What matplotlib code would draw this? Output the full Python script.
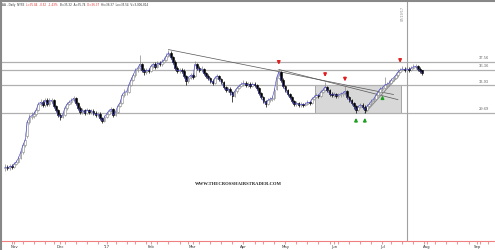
import matplotlib
matplotlib.use("Agg")
import matplotlib.pyplot as plt
import matplotlib.transforms as mtransforms
import numpy as np
import pandas as pd

# ---------------- data ----------------
start_date = "2016-10-26"
holidays = ["2016-11-24", "2016-12-26", "2017-01-02", "2017-01-16", "2017-02-20",
            "2017-04-14", "2017-05-29", "2017-07-04", "2017-09-04"]

closes = [
    21.2, 21.0, 21.3, 21.2, 21.7, 22.0, 22.6, 23.5, 24.6, 25.4,
    28.2, 29.0, 29.2, 29.5, 30.1, 31.0, 31.3, 30.9, 31.6, 31.0,
    31.5, 31.6, 30.7, 30.1, 29.3, 29.0, 29.3, 30.4, 31.0, 31.3,
    31.6, 31.9, 31.2, 30.4, 29.8, 30.1, 29.6, 30.1, 29.8, 30.0,
    29.6, 29.3, 29.5, 28.8, 28.4, 29.0, 29.5, 30.0, 30.2, 29.3,
    29.8, 30.7, 31.2, 32.4, 32.9, 32.9, 34.0, 34.8, 35.5, 36.3,
    36.6, 37.2, 36.3, 36.0, 36.3, 36.2, 36.9, 37.2, 36.8, 37.4,
    37.2, 37.6, 37.9, 38.5, 39.0, 38.3, 37.6, 36.6, 36.2, 36.3,
    36.2, 35.4, 34.6, 35.1, 35.5, 35.2, 37.2, 36.6, 36.3, 36.5,
    35.8, 35.4, 35.1, 34.6, 34.3, 35.1, 35.4, 34.9, 34.4, 33.7,
    33.2, 33.4, 32.9, 32.3, 33.0, 33.5, 33.8, 34.1, 34.3, 34.0,
    34.1, 33.8, 34.1, 34.0, 33.5, 32.7, 32.1, 31.5, 31.0, 31.6,
    31.8, 31.9, 33.2, 35.1, 36.0, 34.8, 33.8, 33.2, 32.6, 32.1,
    31.5, 31.0, 31.2, 30.9, 31.0, 30.9, 31.0, 31.3, 31.2, 31.8,
    32.1, 32.4, 32.3, 32.9, 33.2, 33.7, 33.2, 32.6, 32.4, 32.6,
    32.3, 32.4, 32.6, 32.7, 33.0, 32.1, 31.6, 31.2, 30.7, 30.1,
    30.6, 30.9, 30.6, 30.1, 30.7, 31.0, 31.5, 31.8, 32.4, 32.9,
    33.4, 33.5, 34.0, 34.1, 34.3, 34.8, 35.1, 35.5, 36.0, 36.3,
    36.5, 36.3, 36.5, 36.3, 36.6, 36.8, 36.9, 36.5, 36.2, 35.84]

opens = [
    21.0, 21.2, 21.0, 21.3, 21.2, 21.7, 22.0, 22.6, 23.5, 24.6,
    26.0, 28.2, 29.0, 29.2, 29.5, 30.1, 31.0, 31.3, 30.9, 31.6,
    31.0, 31.5, 31.6, 30.7, 30.1, 29.3, 29.0, 29.3, 30.4, 31.0,
    31.3, 31.6, 31.9, 31.2, 30.4, 29.8, 30.1, 29.6, 30.1, 29.8,
    30.0, 29.6, 29.3, 29.5, 28.8, 28.4, 29.0, 29.5, 30.0, 30.2,
    29.3, 29.8, 30.7, 31.2, 32.4, 32.9, 32.9, 34.0, 34.8, 35.5,
    36.3, 36.6, 37.2, 36.3, 36.0, 36.3, 36.2, 36.9, 37.2, 36.8,
    37.4, 37.2, 37.6, 37.9, 38.5, 39.0, 38.3, 37.6, 36.6, 36.2,
    36.3, 36.2, 35.4, 34.6, 35.1, 35.5, 35.4, 37.2, 36.6, 36.3,
    36.5, 35.8, 35.4, 35.1, 34.6, 34.3, 35.1, 35.4, 34.9, 34.4,
    33.7, 33.2, 33.4, 32.9, 32.3, 33.0, 33.5, 33.8, 34.1, 34.3,
    34.0, 34.1, 33.8, 34.1, 34.0, 33.5, 32.7, 32.1, 31.5, 31.0,
    31.6, 31.8, 31.9, 33.4, 35.1, 36.0, 34.8, 33.8, 33.2, 32.6,
    32.1, 31.5, 31.0, 31.2, 30.9, 31.0, 30.9, 31.0, 31.3, 31.2,
    31.8, 32.1, 32.4, 32.3, 32.9, 33.2, 33.7, 33.2, 32.6, 32.4,
    32.6, 32.3, 32.4, 32.6, 32.7, 33.0, 32.1, 31.6, 31.2, 30.7,
    30.1, 30.6, 30.9, 30.6, 30.1, 30.7, 31.0, 31.5, 31.8, 32.4,
    32.9, 33.4, 33.5, 34.0, 34.1, 34.3, 34.8, 35.1, 35.5, 36.0,
    36.3, 36.5, 36.3, 36.5, 36.3, 36.6, 36.8, 36.9, 36.5, 36.37]

highs = [
    21.6, 21.5, 21.6, 21.6, 22.0, 22.3, 22.9, 23.8, 24.9, 25.8,
    28.6, 29.5, 29.7, 29.9, 30.4, 31.4, 31.8, 31.7, 32.0, 31.9,
    31.9, 32.0, 31.8, 30.9, 30.3, 29.6, 29.7, 30.7, 31.3, 31.7,
    32.0, 32.3, 32.1, 31.4, 30.7, 30.4, 30.3, 30.4, 30.3, 30.3,
    30.2, 29.9, 29.8, 29.7, 29.0, 29.3, 29.8, 30.3, 30.6, 30.4,
    30.1, 31.0, 31.6, 32.7, 33.3, 33.3, 34.3, 35.2, 35.9, 36.7,
    37.0, 38.6, 37.4, 36.6, 36.7, 36.6, 37.2, 37.6, 37.5, 37.7,
    37.7, 38.0, 38.3, 38.9, 39.5, 39.2, 38.5, 37.8, 36.9, 36.7,
    36.6, 36.4, 35.6, 35.4, 35.8, 35.8, 37.7, 37.4, 36.9, 36.9,
    36.7, 36.0, 35.7, 35.3, 34.9, 35.4, 35.7, 35.6, 35.1, 34.6,
    33.9, 33.7, 33.6, 33.1, 33.3, 33.8, 34.2, 34.5, 34.7, 34.6,
    34.5, 34.4, 34.5, 34.4, 34.2, 33.7, 32.9, 32.3, 31.7, 31.9,
    32.1, 32.3, 33.5, 35.5, 36.4, 36.2, 35.0, 34.0, 33.4, 32.8,
    32.3, 31.7, 31.5, 31.4, 31.3, 31.2, 31.3, 31.6, 31.5, 32.1,
    32.4, 32.7, 32.6, 33.2, 33.5, 34.5, 33.9, 33.4, 32.9, 32.9,
    32.8, 32.8, 32.9, 33.0, 33.8, 33.2, 32.3, 31.8, 31.4, 30.9,
    30.9, 31.2, 31.1, 30.8, 31.0, 31.3, 31.8, 32.1, 32.7, 33.2,
    33.7, 33.9, 35.3, 34.5, 34.7, 35.1, 35.4, 35.8, 36.4, 36.7,
    36.9, 36.8, 36.9, 36.8, 37.0, 37.2, 37.3, 37.1, 36.8, 36.37]

lows = [
    20.6, 20.7, 20.8, 20.9, 21.0, 21.5, 21.8, 22.4, 23.3, 24.3,
    25.8, 27.9, 28.7, 28.9, 29.2, 29.9, 30.7, 30.5, 30.6, 30.7,
    30.7, 31.1, 30.4, 29.8, 29.0, 28.6, 28.8, 29.1, 30.1, 30.8,
    31.0, 31.3, 30.9, 30.1, 29.5, 29.5, 29.3, 29.4, 29.5, 29.5,
    29.3, 29.0, 29.0, 28.5, 28.0, 28.2, 28.8, 29.3, 29.7, 29.0,
    29.1, 29.6, 30.5, 31.0, 32.1, 32.5, 32.7, 33.8, 34.6, 35.3,
    36.0, 36.3, 36.0, 35.6, 35.7, 35.9, 36.0, 36.7, 36.5, 36.6,
    36.9, 37.0, 37.4, 37.7, 38.3, 38.0, 37.3, 36.3, 35.9, 35.9,
    35.9, 35.1, 34.0, 34.3, 34.9, 34.9, 35.2, 36.3, 36.0, 36.0,
    35.5, 35.1, 34.8, 34.3, 34.0, 34.1, 34.9, 34.6, 34.1, 33.4,
    32.9, 32.9, 32.5, 31.4, 32.1, 32.8, 33.3, 33.6, 33.9, 33.7,
    33.7, 33.5, 33.6, 33.7, 33.2, 32.4, 31.8, 31.2, 30.6, 30.8,
    31.3, 31.5, 31.7, 33.2, 34.9, 34.5, 33.5, 32.9, 32.3, 31.8,
    31.2, 30.7, 30.7, 30.6, 30.6, 30.6, 30.7, 30.8, 30.9, 31.0,
    31.6, 31.9, 32.0, 32.1, 32.7, 33.0, 32.9, 32.3, 32.1, 32.1,
    32.0, 32.0, 32.1, 32.3, 32.5, 31.8, 31.3, 30.9, 30.3, 29.6,
    29.9, 30.4, 30.3, 29.6, 29.9, 30.5, 30.8, 31.3, 31.6, 32.2,
    32.7, 33.1, 33.3, 33.7, 33.9, 34.1, 34.6, 34.9, 35.3, 35.8,
    36.1, 36.0, 36.1, 36.0, 36.1, 36.4, 36.5, 36.2, 35.9, 35.54]

level_values = [37.56, 36.36, 33.93, 29.69]
level_labels = ["37.56", "36.36", "33.93", "29.69"]
month_labels = ["Nov", "Dec", "'17", "Feb", "Mar", "Apr", "May", "Jun", "Jul", "Aug", "Sep"]
month_starts = ["2016-11-01", "2016-12-01", "2017-01-01", "2017-02-01", "2017-03-01",
                "2017-04-01", "2017-05-01", "2017-06-01", "2017-07-01", "2017-08-01",
                "2017-09-01"]
red_arrow_idx = [124, 145, 154, 179]
green_arrow_idx = [159, 163, 171]
trend_a = ([74, 176], [39.5, 32.5])
trend_b = ([124, 178], [36.4, 31.7])
trend_up = ([163, 178], [29.6, 35.3])
box_x = (140.5, 179.4)
box_y = (29.69, 33.93)
marker_idx = 182
marker_label = "07/19/17"
header_parts = [("AA - Daily  NYSE  ", "#333333"),
                ("L=35.84  -0.52  -1.43%  ", "#e03030"),
                ("B=35.32  A=35.74  ", "#333333"),
                ("O=36.37  ", "#e03030"),
                ("Hi=36.37  Lo=35.54  V=3,006,814", "#333333")]
watermark = "WWW.THECROSSHAIRSTRADER.COM"

# ---------------- trading-day axis ----------------
cbd = pd.offsets.CustomBusinessDay(holidays=holidays)
days = pd.date_range(start=start_date, end="2017-09-29", freq=cbd)
n = len(closes)
idx = np.arange(n)

# ---------------- figure ----------------
W, H = 495, 250
fig = plt.figure(figsize=(W / 100, H / 100), dpi=100)
ax = fig.add_axes([0, 9 / H, 1, 1 - 9 / H - 2 / H])

for s in ["top", "right", "left"]:
    ax.spines[s].set_visible(False)
ax.spines["bottom"].set_color("#f08080")
ax.spines["bottom"].set_linewidth(0.8)
ax.set_yticks([])

# month ticks
pos = []
for ms in month_starts:
    k = np.searchsorted(days.values, np.datetime64(ms))
    pos.append(k)
ax.set_xticks(pos)
ax.set_xticklabels(month_labels, fontsize=2.8, color="#333333")
week_pos = [i for i in range(1, len(days)) if days[i].weekday() < days[i - 1].weekday()]
ax.set_xticks(week_pos, minor=True)
ax.tick_params(axis="x", which="both", colors="#f08080", length=2, width=0.6, pad=1)
for lbl in ax.get_xticklabels():
    lbl.set_color("#333333")

# gray box
ax.add_patch(plt.Rectangle((box_x[0], box_y[0]), box_x[1] - box_x[0], box_y[1] - box_y[0],
                           facecolor="#d8d8d8", edgecolor="#999999", lw=0.6, zorder=1))

# horizontal levels
trans = mtransforms.blended_transform_factory(ax.transAxes, ax.transData)
for v, lab in zip(level_values, level_labels):
    ax.axhline(v, color="#b0b0b0", lw=0.9, zorder=1)
    ax.text(0.988, v + 0.25, lab, transform=trans, ha="right", va="bottom",
            fontsize=2.6, color="#555555", family="DejaVu Serif")

# vertical marker line
ax.axvline(marker_idx, color="#a0a0a0", lw=0.8, zorder=1)
ax.text(marker_idx - 0.8, 46.3, marker_label, rotation=90, ha="right", va="top",
        fontsize=2.4, color="#888888")

# trend lines
ax.plot(trend_a[0], trend_a[1], color="#555555", lw=0.5, zorder=2)
ax.plot(trend_b[0], trend_b[1], color="#555555", lw=0.5, zorder=2)
ax.plot(trend_up[0], trend_up[1], color="#888888", lw=0.7, zorder=2)

# candles
o = np.array(opens); c = np.array(closes); h = np.array(highs); l = np.array(lows)
up = c >= o
wick_col = np.where(up, "#888888", "#000000")
ax.vlines(idx, l, h, colors=wick_col, lw=0.5, zorder=3)
body_bot = np.minimum(o, c)
body_h = np.maximum(np.abs(c - o), 0.06)
ax.bar(idx[up], body_h[up], bottom=body_bot[up], width=0.75, color="white",
       edgecolor="#888888", lw=0.4, zorder=4)
ax.bar(idx[~up], body_h[~up], bottom=body_bot[~up], width=0.75, color="black",
       edgecolor="black", lw=0.4, zorder=4)

# blue close line
ax.plot(idx, c, color="#4040d8", lw=0.4, zorder=5)

# arrows
for i in red_arrow_idx:
    ax.annotate("", xy=(i, h[i] + 0.3), xytext=(i, h[i] + 1.8),
                arrowprops=dict(arrowstyle="-|>,head_length=0.18,head_width=0.09",
                                color="#e02020", lw=1.0), zorder=6)
for i in green_arrow_idx:
    ax.annotate("", xy=(i, l[i] - 0.3), xytext=(i, l[i] - 1.8),
                arrowprops=dict(arrowstyle="-|>,head_length=0.18,head_width=0.09",
                                color="#20a020", lw=1.0), zorder=6)

# watermark
ax.text(0.482, 0.24, watermark, transform=ax.transAxes, ha="center", va="center",
        fontsize=3.3, color="#222222", family="Liberation Serif", fontweight="bold")

# limits set last (set_xticks can expand them)
ax.set_xlim(-2.36, 222.0)
ax.set_ylim(9.68, 46.91)

# header (multi-coloured)
x0 = 2 / W
renderer = fig.canvas.get_renderer()
for txt, col in header_parts:
    t = fig.text(x0, 1 - 5 / H, txt, fontsize=2.0, color=col, ha="left", va="center")
    bb = t.get_window_extent(renderer=renderer)
    x0 += bb.width / W

# border lines (left and top)
fig.add_artist(plt.Line2D([0.5 / W, 0.5 / W], [0, 1], color="#888888", lw=1.5))
fig.add_artist(plt.Line2D([0, 1], [1 - 0.5 / H, 1 - 0.5 / H], color="#888888", lw=1.5))

fig.savefig("out.png", dpi=100)
